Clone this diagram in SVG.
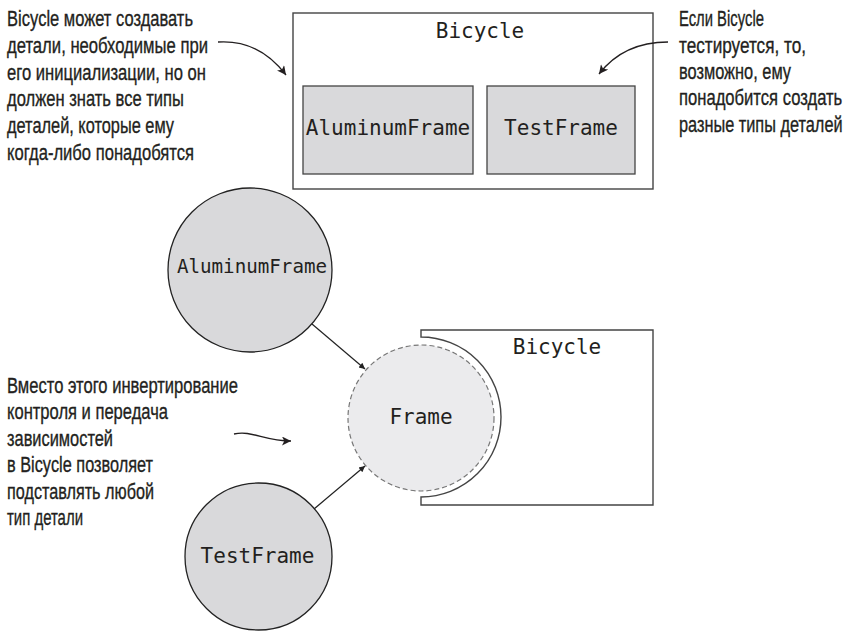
<svg xmlns="http://www.w3.org/2000/svg" width="852" height="632" viewBox="0 0 852 632">
<style>
.note{font-family:"Liberation Sans","Noto Sans",sans-serif;font-size:22px;fill:#231f20;stroke:#231f20;stroke-width:0.35}
.mono{font-family:"DejaVu Sans Mono","Liberation Mono",monospace;fill:#231f20;text-anchor:middle}
.box{fill:#ffffff;stroke:#444;stroke-width:1.4}
.part{fill:#d9d9db;stroke:#444;stroke-width:1.3}
.node{fill:#d9d9db;stroke:#222;stroke-width:1.3}
.iface{fill:#ebebed;stroke:#777;stroke-width:1.2;stroke-dasharray:5 3}
.conn{fill:none;stroke:#222;stroke-width:1.2}
.ann{fill:none;stroke:#231f20;stroke-width:1.3}
</style>
<defs>
<marker id="ah" viewBox="0 0 10 10" refX="10" refY="5" markerWidth="8" markerHeight="6" markerUnits="userSpaceOnUse" orient="auto">
<path d="M0,0 L10,5 L0,10 Z" fill="#222"/>
</marker>
<marker id="ahb" viewBox="0 0 10 10" refX="10" refY="5" markerWidth="11" markerHeight="9" markerUnits="userSpaceOnUse" orient="auto">
<path d="M0,0 L10,5 L0,10 L2.5,5 Z" fill="#231f20"/>
</marker>
</defs>

<g id="note-top-left">
<text class="note" x="7" y="26" textLength="186" lengthAdjust="spacingAndGlyphs">Bicycle может создавать</text>
<text class="note" x="7" y="53" textLength="201" lengthAdjust="spacingAndGlyphs">детали, необходимые при</text>
<text class="note" x="7" y="79.5" textLength="199" lengthAdjust="spacingAndGlyphs">его инициализации, но он</text>
<text class="note" x="7" y="106" textLength="177" lengthAdjust="spacingAndGlyphs">должен знать все типы</text>
<text class="note" x="7" y="133" textLength="167" lengthAdjust="spacingAndGlyphs">деталей, которые ему</text>
<text class="note" x="7" y="159.5" textLength="187" lengthAdjust="spacingAndGlyphs">когда-либо понадобятся</text>
</g>

<g id="note-top-right">
<text class="note" x="679" y="26" textLength="85" lengthAdjust="spacingAndGlyphs">Если Bicycle</text>
<text class="note" x="679" y="52.5" textLength="127" lengthAdjust="spacingAndGlyphs">тестируется, то,</text>
<text class="note" x="679" y="79" textLength="112" lengthAdjust="spacingAndGlyphs">возможно, ему</text>
<text class="note" x="0" y="105.5" transform="translate(679,0) scale(0.755,1)">понадобится создать</text>
<text class="note" x="0" y="132" transform="translate(679,0) scale(0.742,1)">разные типы деталей</text>
</g>

<g id="note-middle-left">
<text class="note" x="7" y="392.5" textLength="231" lengthAdjust="spacingAndGlyphs">Вместо этого инвертирование</text>
<text class="note" x="7" y="419" textLength="161" lengthAdjust="spacingAndGlyphs">контроля и передача</text>
<text class="note" x="7" y="445.5" textLength="106" lengthAdjust="spacingAndGlyphs">зависимостей</text>
<text class="note" x="7" y="472" textLength="146" lengthAdjust="spacingAndGlyphs">в Bicycle позволяет</text>
<text class="note" x="7" y="498.5" textLength="147" lengthAdjust="spacingAndGlyphs">подставлять любой</text>
<text class="note" x="7" y="525" textLength="76" lengthAdjust="spacingAndGlyphs">тип детали</text>
</g>

<g id="bicycle-top">
<rect class="box" x="293" y="13" width="360" height="176"/>
<text class="mono" x="480" y="38" font-size="21">Bicycle</text>
</g>
<g id="aluminumframe-part">
<rect class="part" x="303" y="86" width="170" height="88"/>
<text class="mono" x="388" y="135" font-size="21">AluminumFrame</text>
</g>
<g id="testframe-part">
<rect class="part" x="487" y="86" width="148" height="88"/>
<text class="mono" x="561" y="135" font-size="21">TestFrame</text>
</g>

<g id="bicycle-bottom">
<path class="box" d="M653,330 H421 V337 A80,80 0 0 1 421,497 V505 H653 Z"/>
<text class="mono" x="557" y="354" font-size="21">Bicycle</text>
</g>
<g id="frame">
<circle class="iface" cx="421" cy="418" r="73"/>
<text class="mono" x="421" y="424" font-size="21">Frame</text>
</g>
<g id="aluminumframe">
<circle class="node" cx="250" cy="270" r="82"/>
<text class="mono" x="252" y="273" font-size="19.2">AluminumFrame</text>
</g>
<g id="testframe">
<circle class="node" cx="258.5" cy="556.5" r="73.5"/>
<text class="mono" x="257.5" y="563" font-size="21">TestFrame</text>
</g>

<g id="connectors">
<path class="conn" d="M312,324 L365,369" marker-end="url(#ah)"/>
<path class="conn" d="M314,509 L365,466" marker-end="url(#ah)"/>
<path class="ann" d="M218,42 C248,40 270,54 286,75" marker-end="url(#ahb)"/>
<path class="ann" d="M668,42 C640,42 616,52 599,74" marker-end="url(#ahb)"/>
<path class="ann" d="M234,434 C252,430 264,441 291,441" marker-end="url(#ahb)"/>
</g>
</svg>
